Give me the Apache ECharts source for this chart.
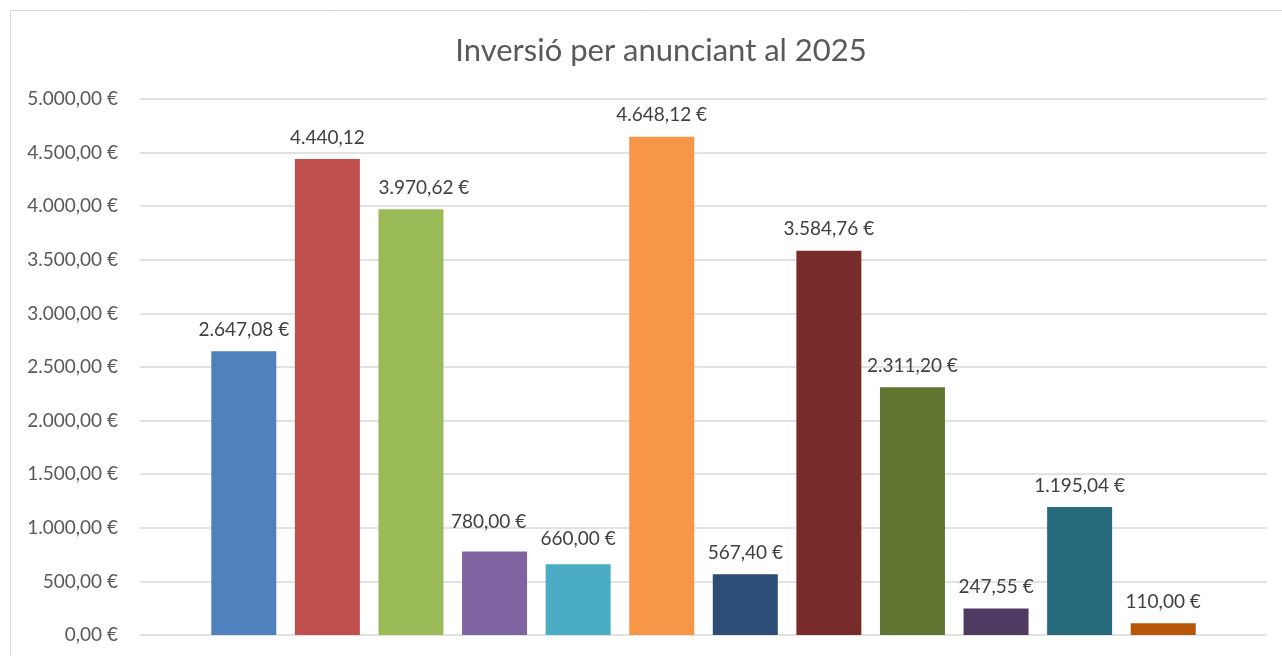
<!DOCTYPE html>
<html>
<head>
<meta charset="utf-8">
<script src="https://cdn.jsdelivr.net/npm/echarts@6/dist/echarts.min.js"></script>
<style>
  html, body { margin: 0; padding: 0; background: #fff; }
  #chart { width: 1282px; height: 656px; }
</style>
</head>
<body>
<div id="chart"></div>
<script>
// dades
const advertisers = ['A1', 'A2', 'A3', 'A4', 'A5', 'A6', 'A7', 'A8', 'A9', 'A10', 'A11', 'A12']
const investment = [2647.08, 4440.12, 3970.62, 780.00, 660.00, 4648.12, 567.40, 3584.76, 2311.20, 247.55, 1195.04, 110.00]
const labelTexts = ['2.647,08 €', '4.440,12', '3.970,62 €', '780,00 €', '660,00 €', '4.648,12 €', '567,40 €', '3.584,76 €', '2.311,20 €', '247,55 €', '1.195,04 €', '110,00 €']
const barColors = ['#4F81BD', '#C0504D', '#9BBB59', '#8064A2', '#4BACC6', '#F79646', '#2C4D75', '#772C2A', '#5F7530', '#4D3B62', '#276A7C', '#B65708']
const yTicks = { min: 0, max: 5000, interval: 500 }

const FONT = 'Lato, "Open Sans", sans-serif'
const TEXT = '#595959'

// format 1234.5 -> "1.234,50 €"
const euro = (v) => {
  const parts = v.toFixed(2).split('.')
  parts[0] = parts[0].replace(/\B(?=(\d{3})+(?!\d))/g, '.')
  return parts[0] + ',' + parts[1] + ' €'
}

// petits desplaçaments manuals de les etiquetes (com a l'Excel)
const labelOffsets = { 2: [13, 0], 3: [-6, -8], 4: [0, -4] }

const chart = echarts.init(document.getElementById('chart'))

chart.setOption({
  animation: false,
  backgroundColor: '#fff',
  title: {
    text: 'Inversió per anunciant al 2025',
    left: 656,
    top: 30,
    textAlign: 'center',
    textStyle: { fontFamily: FONT, fontSize: 31, fontWeight: 'normal', color: TEXT }
  },
  graphic: [{
    type: 'rect',
    silent: true,
    shape: { x: 10.5, y: 10.5, width: 1300, height: 700 },
    style: { fill: 'none', stroke: '#D9D9D9', lineWidth: 1 }
  }],
  grid: [
    // area de la graella (linies horitzontals)
    { left: 140, right: 15, top: 99, bottom: 21 },
    // area de les barres
    { left: 202, right: 77, top: 99, bottom: 21 }
  ],
  xAxis: [
    { gridIndex: 0, type: 'value', show: false },
    {
      gridIndex: 1,
      type: 'category',
      data: advertisers,
      axisLine: { show: false },
      axisTick: { show: false },
      axisLabel: { show: false }
    }
  ],
  yAxis: [
    {
      gridIndex: 0,
      type: 'value',
      min: yTicks.min,
      max: yTicks.max,
      interval: yTicks.interval,
      axisLine: { show: false },
      axisTick: { show: false },
      axisLabel: {
        margin: 22,
        fontFamily: FONT,
        fontSize: 19,
        color: TEXT,
        formatter: (v) => euro(v)
      },
      splitLine: { lineStyle: { color: '#D9D9D9', width: 1.5 } }
    },
    {
      gridIndex: 1,
      type: 'value',
      min: yTicks.min,
      max: yTicks.max,
      interval: yTicks.interval,
      show: false,
      splitLine: { show: false }
    }
  ],
  series: [{
    type: 'bar',
    xAxisIndex: 1,
    yAxisIndex: 1,
    barWidth: 65,
    data: investment.map((v, i) => ({
      value: v,
      itemStyle: { color: barColors[i] },
      label: labelOffsets[i] ? { offset: labelOffsets[i] } : undefined
    })),
    label: {
      show: true,
      position: 'top',
      distance: 12,
      fontFamily: FONT,
      fontSize: 19,
      color: '#404040',
      formatter: (p) => labelTexts[p.dataIndex]
    }
  }]
})
</script>
</body>
</html>
